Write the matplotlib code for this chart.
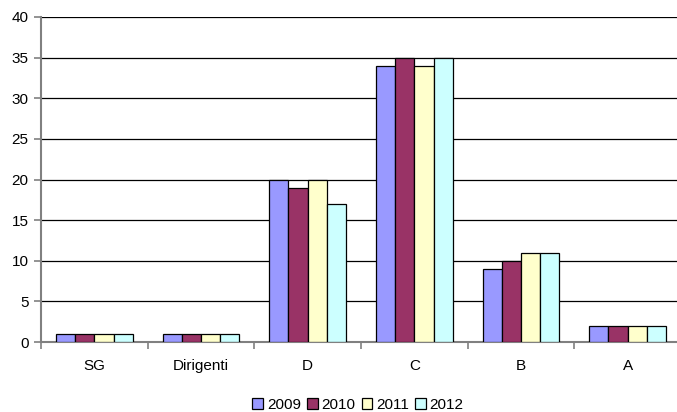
import numpy as np
import matplotlib.pyplot as plt

plt.rcParams['font.family'] = ['Liberation Sans', 'DejaVu Sans']
plt.rcParams['font.size'] = 11

categories = ['SG', 'Dirigenti', 'D', 'C', 'B', 'A']
years = ['2009', '2010', '2011', '2012']
values_2009 = [1, 1, 20, 34, 9, 2]
values_2010 = [1, 1, 19, 35, 10, 2]
values_2011 = [1, 1, 20, 34, 11, 2]
values_2012 = [1, 1, 17, 35, 11, 2]
series = [values_2009, values_2010, values_2011, values_2012]
colors = ['#9999FF', '#993366', '#FFFFCC', '#CCFFFF']

W, H = 677, 412
fig = plt.figure(figsize=(W / 100, H / 100), dpi=100)
ax = fig.add_axes([41 / W, 1 - 342 / H, 640 / W, 325 / H])

x = np.arange(len(categories))
bw = 0.18
for i, (vals, col, yr) in enumerate(zip(series, colors, years)):
    ax.bar(x + (i - 1.5) * bw, vals, bw, color=col, edgecolor='black',
           linewidth=0.9, label=yr, zorder=3)

ax.set_xlim(-0.5, len(categories) - 0.5)
ax.set_ylim(0, 40)
ax.set_yticks(range(0, 41, 5))
ax.yaxis.grid(True, color='black', linewidth=0.9, zorder=0)
ax.set_axisbelow(True)

ax.set_xticks(x)
ax.set_xticklabels(categories)
ax.set_xticks(np.arange(-0.5, len(categories)), minor=True)
ax.tick_params(axis='x', which='major', length=0, pad=12)
ax.tick_params(axis='x', which='minor', length=5, width=1.2, color='#808080')
ax.tick_params(axis='y', length=5, width=1.2, color='#808080', pad=4)

for s in ['top', 'right']:
    ax.spines[s].set_visible(False)
for s in ['left', 'bottom']:
    ax.spines[s].set_color('#808080')
    ax.spines[s].set_linewidth(1.5)

fig.legend(loc='center', bbox_to_anchor=(358 / W, 1 - 405 / H), ncol=4,
           frameon=False, handlelength=0.7, handleheight=0.7,
           handletextpad=0.25, columnspacing=0.4, borderaxespad=0)

fig.savefig('out.png', dpi=100)
